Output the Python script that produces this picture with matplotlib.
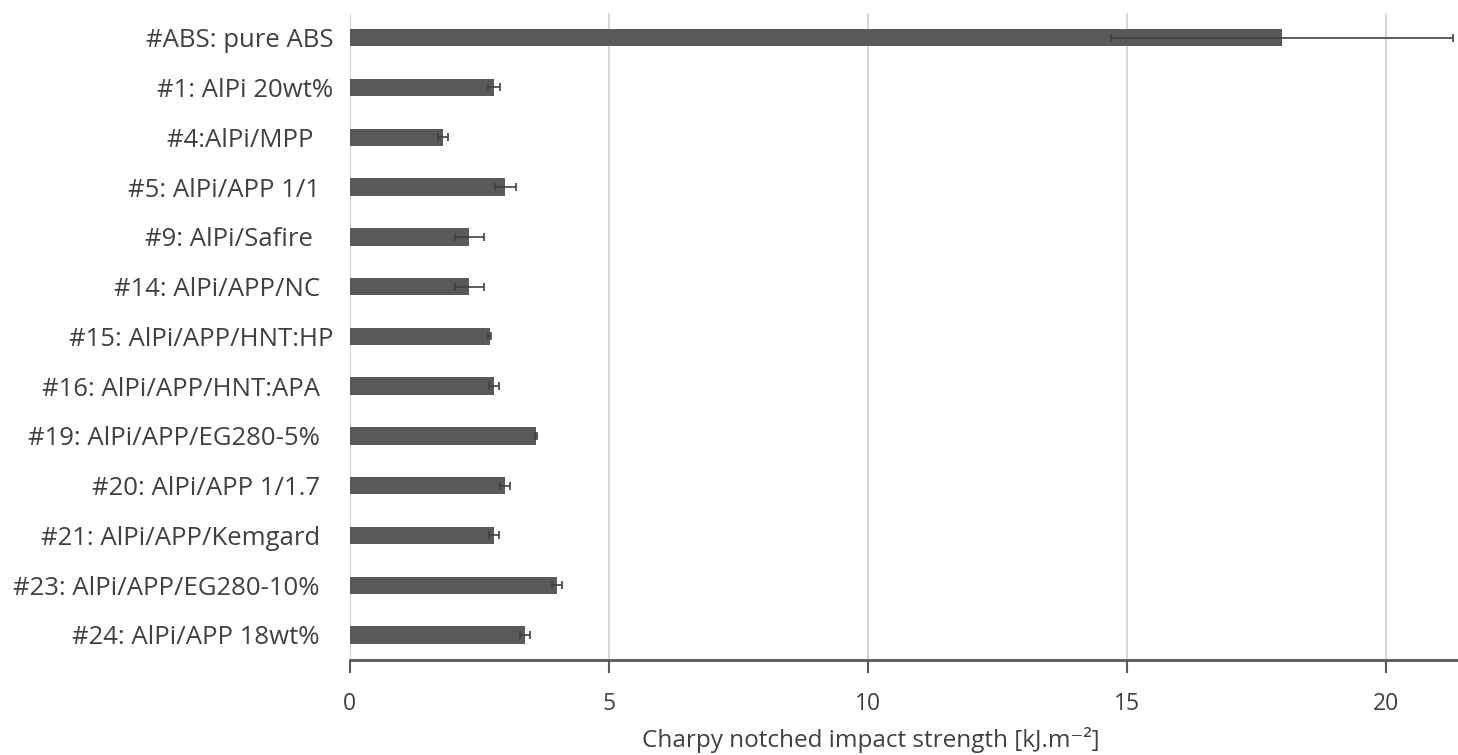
import matplotlib.pyplot as plt
import numpy as np

labels = [
    "#ABS: pure ABS",
    "#1: AlPi 20wt%",
    "#4:AlPi/MPP   ",
    "#5: AlPi/APP 1/1  ",
    "#9: AlPi/Safire   ",
    "#14: AlPi/APP/NC  ",
    "#15: AlPi/APP/HNT:HP",
    "#16: AlPi/APP/HNT:APA  ",
    "#19: AlPi/APP/EG280-5%  ",
    "#20: AlPi/APP 1/1.7  ",
    "#21: AlPi/APP/Kemgard  ",
    "#23: AlPi/APP/EG280-10%  ",
    "#24: AlPi/APP 18wt%  ",
]
strength = [18.0, 2.78, 1.8, 3.0, 2.3, 2.3, 2.7, 2.78, 3.6, 3.0, 2.78, 4.0, 3.38]
strength_err = [3.3, 0.12, 0.1, 0.2, 0.28, 0.28, 0.03, 0.1, 0.02, 0.1, 0.1, 0.1, 0.1]

plt.rcParams["font.family"] = ["Open Sans", "DejaVu Sans"]

fig = plt.figure(figsize=(14.58, 7.55), dpi=100)
ax = fig.add_axes([0.240, 0.126, 0.760, 0.857])

y = np.arange(len(labels))
ax.barh(y, strength, height=0.35, color="#595959", zorder=3,
        xerr=strength_err, error_kw=dict(ecolor="#404040", elinewidth=1.2,
                                         capsize=3, capthick=1.2, zorder=4))
ax.set_yticks(y)
ax.set_yticklabels(labels)
ax.set_ylim(len(labels) - 0.5, -0.5)
ax.set_xlim(0, 21.4)
ax.set_xticks([0, 5, 10, 15, 20])

ax.grid(axis="x", color="#d0d0d0", linewidth=1.2, zorder=0)
for s in ["top", "right", "left"]:
    ax.spines[s].set_visible(False)
ax.spines["bottom"].set_color("#595959")
ax.spines["bottom"].set_linewidth(2)

ax.tick_params(axis="y", length=0, pad=12, labelsize=18.5, labelcolor="#404040")
ax.tick_params(axis="x", length=9, width=1.5, color="#595959", pad=14,
               labelsize=16.5, labelcolor="#404040")

ax.set_xlabel("Charpy notched impact strength [kJ.m⁻²]", fontsize=17.5,
              color="#404040", labelpad=8)
ax.xaxis.label.set_x(0.470)

fig.savefig("out.png", dpi=100)
